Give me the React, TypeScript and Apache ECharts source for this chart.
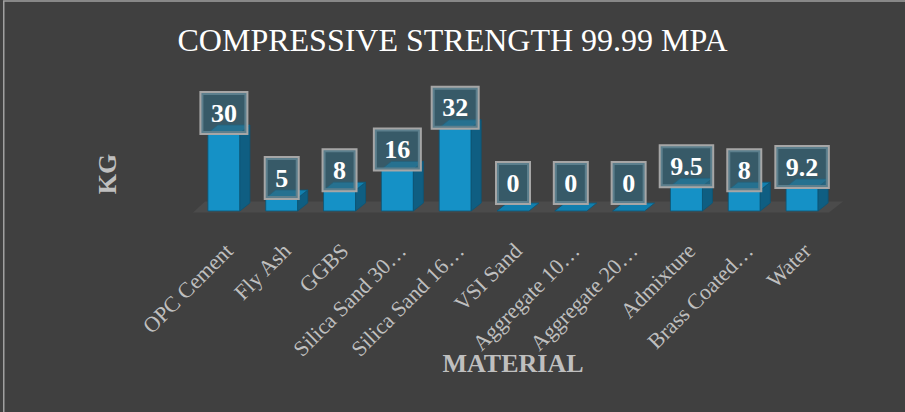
import React, { useEffect, useRef } from "react";
import * as echarts from "echarts";

const categories = [
  "OPC Cement",
  "Fly Ash",
  "GGBS",
  "Silica Sand 30…",
  "Silica Sand 16…",
  "VSI Sand",
  "Aggregate 10…",
  "Aggregate 20…",
  "Admixture",
  "Brass Coated…",
  "Water",
];
const values = [30, 5, 8, 16, 32, 0, 0, 0, 9.5, 8, 9.2];
const titleText = "COMPRESSIVE STRENGTH 99.99 MPA";
const xAxisName = "MATERIAL";
const yAxisName = "KG";

const SERIF = "'Times New Roman', 'Liberation Serif', serif";

export default function App() {
  const ref = useRef<HTMLDivElement>(null);

  useEffect(() => {
    document.body.style.margin = "0";
    document.body.style.background = "#404040";
    if (!ref.current) return;
    const chart = echarts.init(ref.current, undefined, { renderer: "svg" });

    const BW = 32;
    const DX = 10;
    const DY = 8;

    const option: any = {
      animation: false,
      backgroundColor: "#404040",
      title: {
        text: titleText,
        left: "center",
        top: 19,
        textStyle: {
          color: "#ffffff",
          fontFamily: SERIF,
          fontWeight: "normal",
          fontSize: 32,
        },
      },
      grid: { left: 200, right: 69, top: 120, bottom: 201, containLabel: false },
      xAxis: {
        type: "category",
        data: categories,
        axisLine: { show: false },
        axisTick: { show: false },
        splitLine: { show: false },
        axisLabel: {
          interval: 0,
          rotate: 45,
          margin: 36,
          color: "#bfbfbf",
          fontSize: 22,
          fontFamily: SERIF,
        },
      },
      yAxis: {
        type: "value",
        min: 0,
        max: 35,
        show: false,
      },
      graphic: [
        {
          type: "rect",
          silent: true,
          shape: { x: 3.75, y: 1, width: 1200, height: 1200 },
          style: { fill: "none", stroke: "#a0a0a0", lineWidth: 1.5 },
        },
        {
          type: "text",
          silent: true,
          x: 513,
          y: 363,
          style: {
            text: xAxisName,
            fill: "#bfbfbf",
            font: `bold 26px ${SERIF}`,
            align: "center",
            verticalAlign: "middle",
          },
        },
        {
          type: "text",
          silent: true,
          x: 107,
          y: 174,
          rotation: Math.PI / 2,
          style: {
            text: yAxisName,
            fill: "#bfbfbf",
            font: `bold 26px ${SERIF}`,
            align: "center",
            verticalAlign: "middle",
          },
        },
      ],
      series: [
        {
          type: "custom",
          silent: true,
          z: 1,
          data: [[0, 0]],
          renderItem: (params: any) => {
            const cs = params.coordSys;
            const by = cs.y + cs.height + 1.5;
            const lx = cs.x - 7;
            const rx = cs.x + cs.width - 7;
            return {
              type: "polygon",
              shape: {
                points: [
                  [lx, by],
                  [rx, by],
                  [rx + 14, by - 11],
                  [lx + 12, by - 11],
                ],
              },
              style: { fill: "#4b4b4b" },
            };
          },
        },
        {
          type: "custom",
          silent: true,
          z: 2,
          data: values.map((v, i) => [i, v]),
          encode: { x: 0, y: 1 },
          renderItem: (params: any, api: any) => {
            const idx = api.value(0);
            const v = api.value(1);
            const top = api.coord([idx, v]);
            const base = api.coord([idx, 0]);
            const cx = top[0] - 5;
            const x0 = cx - BW / 2;
            const x1 = cx + BW / 2;
            const yT = top[1];
            const yB = base[1];
            const stroke = "#0c5675";
            const children: any[] = [];
            if (yB - yT > 0.5) {
              children.push({
                type: "polygon",
                shape: { points: [[x0, yT], [x1, yT], [x1, yB], [x0, yB]] },
                style: { fill: "#1591c6", stroke, lineWidth: 0.8 },
              });
              children.push({
                type: "polygon",
                shape: {
                  points: [
                    [x1, yT],
                    [x1 + DX, yT - DY],
                    [x1 + DX, yB - DY],
                    [x1, yB],
                  ],
                },
                style: { fill: "#0f5e82", stroke, lineWidth: 0.8 },
              });
            }
            children.push({
              type: "polygon",
              shape: {
                points: [
                  [x0, yT],
                  [x0 + DX, yT - DY],
                  [x1 + DX, yT - DY],
                  [x1, yT],
                ],
              },
              style: { fill: "#117fae", stroke, lineWidth: 0.8 },
            });
            const labelY = Math.min(yT, yB - DY);
            children.push({
              type: "text",
              x: cx,
              y: labelY,
              z2: 10,
              style: {
                text: String(values[idx]),
                fill: "#ffffff",
                font: `bold 26px ${SERIF}`,
                align: "center",
                verticalAlign: "bottom",
                backgroundColor: "rgba(50,105,126,0.64)",
                borderColor: "#a6a6a6",
                borderWidth: 2,
                padding: [7, 9.5, 7, 9.5],
              },
            });
            return { type: "group", children };
          },
        },
      ],
    };

    chart.setOption(option);
    return () => chart.dispose();
  }, []);

  return <div ref={ref} style={{ width: 905, height: 412 }} />;
}
